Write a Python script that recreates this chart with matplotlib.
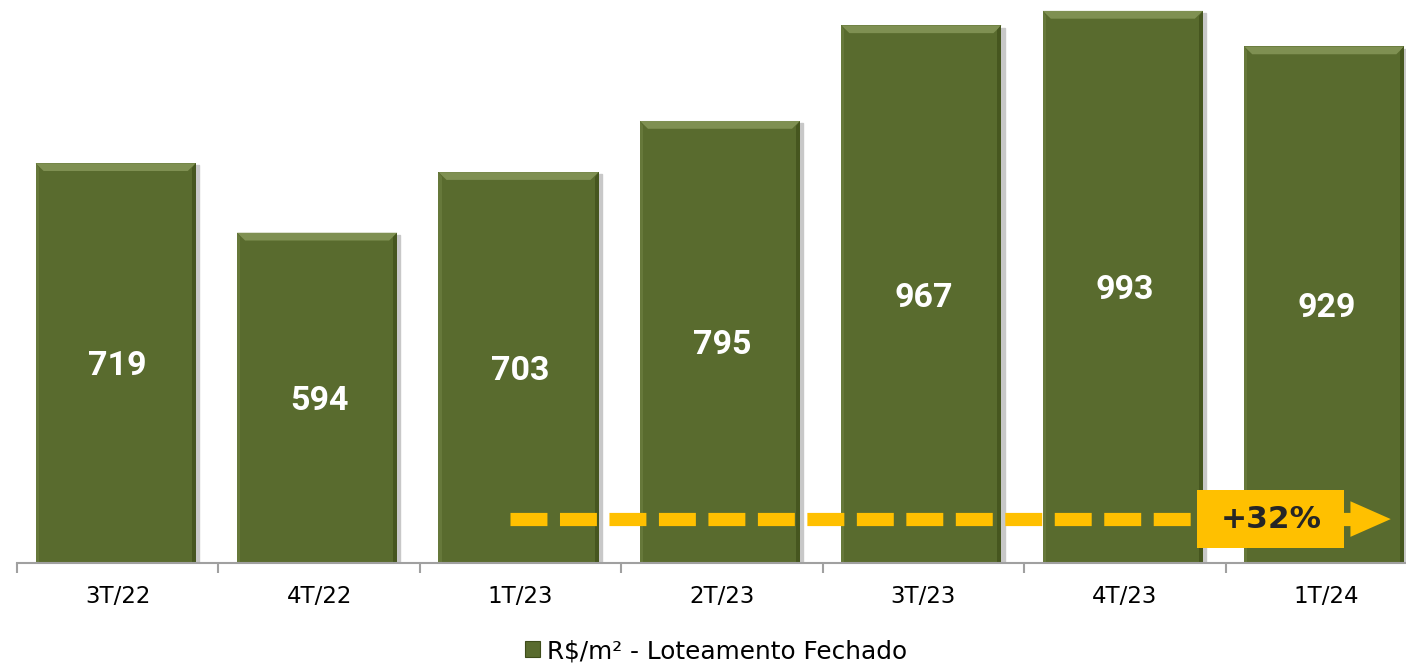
import matplotlib.pyplot as plt
from matplotlib.patches import Rectangle, Polygon, Patch

quarters = ["3T/22", "4T/22", "1T/23", "2T/23", "3T/23", "4T/23", "1T/24"]
price_m2 = [719, 594, 703, 795, 967, 993, 929]
growth_label = "+32%"
legend_label = "R$/m² - Loteamento Fechado"

green = "#596B2E"
green_light = "#7F9052"
green_dark = "#46561F"
yellow = "#FFC000"

fig = plt.figure(figsize=(14.06, 6.68), dpi=100)
# axes runs a little past the right edge, like the original slide crop
ax = fig.add_axes([17 / 1406, 1 - 563 / 668, 1410 / 1406, 563 / 668])
ax.set_xlim(-0.5, len(quarters) - 0.5)
ax.set_ylim(0, 1012.6)

bw = 0.795
xs = range(len(quarters))
ax.bar([x - 0.01 for x in xs], price_m2, width=bw, color=green, zorder=2)

# bevel look: lighter top, darker right edge, soft shadow
dx = 0.04
dy = 14
for x, v in zip(xs, price_m2):
    x0, x1 = x - 0.01 - bw / 2, x - 0.01 + bw / 2
    ax.add_patch(Rectangle((x1, 0), 0.015, v - 4, color="#C8C8C8", zorder=1))
    ax.add_patch(Polygon([(x0, v), (x1, v), (x1 - dx, v - dy), (x0 + dx, v - dy)],
                         closed=True, color=green_light, zorder=3, lw=0))
    ax.add_patch(Polygon([(x1, v), (x1, 0), (x1 - 0.02, 0), (x1 - 0.02, v - dy * 0.6)],
                         closed=True, color=green_dark, zorder=3, lw=0))
    ax.add_patch(Polygon([(x0, v), (x0, 0), (x0 + 0.015, 0), (x0 + 0.015, v - dy * 0.6)],
                         closed=True, color="#66783A", zorder=3, lw=0))
    ax.text(x, v / 2 - 6, str(v), ha="center", va="center", color="white",
            fontsize=24.5, fontweight="bold", family="Roboto", zorder=4)

# growth arrow
y_arr = 79
ax.plot([1.95, 6.12], [y_arr, y_arr], color=yellow, lw=9.5, dashes=(2.8, 0.95),
        solid_capstyle="butt", dash_capstyle="butt", zorder=5)
ax.add_patch(Polygon([(6.12, y_arr + 32), (6.32, y_arr), (6.12, y_arr - 32)],
                     closed=True, color=yellow, lw=0, zorder=5, clip_on=False))
ax.plot([6.05, 6.13], [y_arr, y_arr], color=yellow, lw=9.5, solid_capstyle="butt", zorder=5)
ax.add_patch(Rectangle((5.36, 27), 0.73, 104, color=yellow, lw=0, zorder=6))
ax.text(5.725, 79, growth_label, ha="center", va="center", color="#262626",
        fontsize=22.5, fontweight="bold", zorder=7)

# axis styling
for s in ["top", "right", "left"]:
    ax.spines[s].set_visible(False)
ax.spines["bottom"].set_color("#A0A0A0")
ax.spines["bottom"].set_linewidth(1.5)
ax.spines["bottom"].set_zorder(3)
ax.set_yticks([])
ax.set_xticks([i - 0.5 for i in range(len(quarters) + 1)])
ax.set_xticklabels([])
ax.set_xticks(list(xs), minor=True)
ax.set_xticklabels(quarters, minor=True, fontsize=16.5, color="#000000")
ax.tick_params(axis="x", which="major", length=7, width=1.5, color="#A0A0A0")
ax.tick_params(axis="x", which="minor", length=0, pad=16)

fig.legend(handles=[Patch(facecolor=green, edgecolor="#3E4C1A", lw=0.8)],
           labels=[legend_label], loc="center", bbox_to_anchor=(716 / 1406, 1 - 651 / 668),
           frameon=False, fontsize=17.8, handlelength=0.6, handleheight=0.6,
           handletextpad=0.3)

fig.savefig("out.png", dpi=100)
